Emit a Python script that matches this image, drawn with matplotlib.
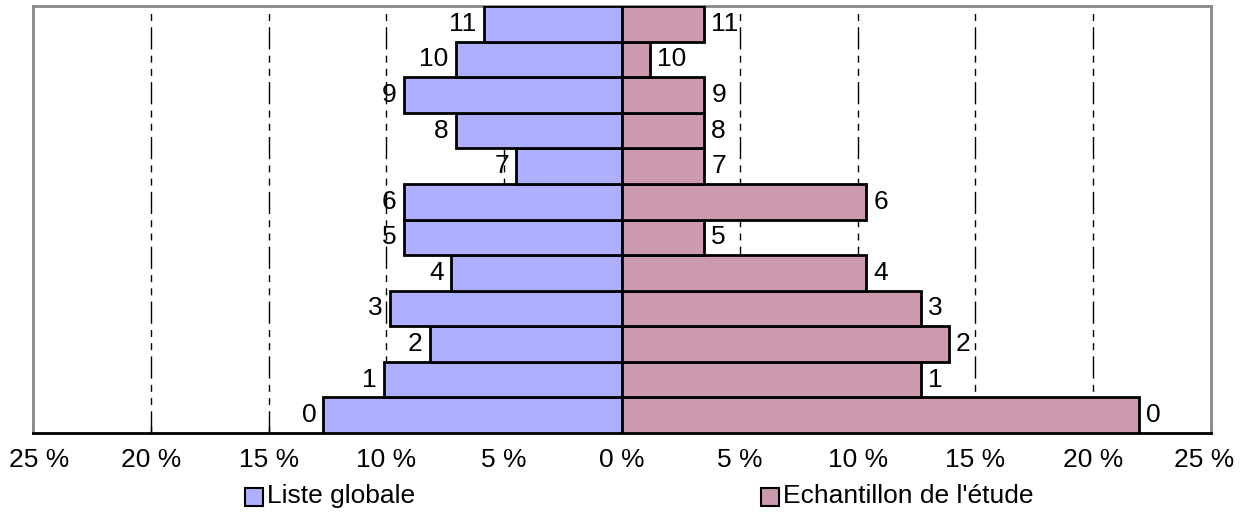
import numpy as np
import matplotlib.pyplot as plt
import matplotlib.transforms as mtransforms
from matplotlib.patches import Rectangle

plt.rcParams["font.family"] = ["Liberation Sans", "DejaVu Sans"]
plt.rcParams["lines.scale_dashes"] = False

# categories 0..11 bottom to top, values in %
classes = ["0", "1", "2", "3", "4", "5", "6", "7", "8", "9", "10", "11"]
liste_globale = [12.67, 10.12, 8.16, 9.86, 7.27, 9.27, 9.27, 4.5, 7.06, 9.27, 7.06, 5.87]
echantillon = [21.94, 12.67, 13.86, 12.67, 10.37, 3.49, 10.37, 3.49, 3.49, 3.49, 1.19, 3.49]
ticks = [-25, -20, -15, -10, -5, 0, 5, 10, 15, 20, 25]
tick_labels = ["25 %", "20 %", "15 %", "10 %", "5 %", "0 %", "5 %", "10 %", "15 %", "20 %", "25 %"]

blue = "#afafff"
pink = "#cc9aae"
fs = 19

fig = plt.figure(figsize=(12.46, 5.15), dpi=100)
ax = fig.add_axes([33 / 1246, 1 - 433 / 515, (1211 - 33) / 1246, (433 - 6) / 515])

y = np.arange(len(classes))
ax.barh(y, [-v for v in liste_globale], height=1.0, color=blue, edgecolor="black", linewidth=2, zorder=3)
ax.barh(y, echantillon, height=1.0, color=pink, edgecolor="black", linewidth=2, zorder=3)

for i, (a, b) in enumerate(zip(liste_globale, echantillon)):
    ax.text(-a - 0.3, i, classes[i], ha="right", va="center", fontsize=fs, zorder=2)
    ax.text(b + 0.3, i, classes[i], ha="left", va="center", fontsize=fs, zorder=2)

ax.set_xlim(-25, 25)
ax.set_ylim(-0.5, len(classes) - 0.5)
for t in ticks:
    if t not in (-25, 0, 25):
        ax.axvline(t, color="black", linewidth=1, linestyle=(0, (16, 4.5, 5, 4.5, 5, 4.5)), zorder=1)

ax.set_xticks(ticks)
ax.set_xticklabels(tick_labels, fontsize=fs)
ax.set_yticks([])
ax.tick_params(axis="x", direction="in", length=5, width=1, pad=11)
for side in ["top", "left", "right"]:
    ax.spines[side].set_color("#888888")
    ax.spines[side].set_linewidth(2)
ax.spines["bottom"].set_color("black")
ax.spines["bottom"].set_linewidth(2)

# end labels sit a bit inside, as in the original
labels = ax.get_xticklabels()
labels[0].set_transform(labels[0].get_transform() + mtransforms.ScaledTranslation(6 / 100, 0, fig.dpi_scale_trans))
labels[-1].set_transform(labels[-1].get_transform() + mtransforms.ScaledTranslation(-7 / 100, 0, fig.dpi_scale_trans))

# legend
fig.patches.append(Rectangle((245 / 1246, 1 - 506 / 515), 18 / 1246, 18 / 515,
                             transform=fig.transFigure, facecolor=blue, edgecolor="black", linewidth=1.5))
fig.text(267 / 1246, 1 - 496 / 515, "Liste globale", fontsize=fs, va="center", ha="left")
fig.patches.append(Rectangle((761 / 1246, 1 - 506 / 515), 18 / 1246, 18 / 515,
                             transform=fig.transFigure, facecolor=pink, edgecolor="black", linewidth=1.5))
fig.text(783 / 1246, 1 - 496 / 515, "Echantillon de l'étude", fontsize=fs, va="center", ha="left")

fig.savefig("out.png", dpi=100)
